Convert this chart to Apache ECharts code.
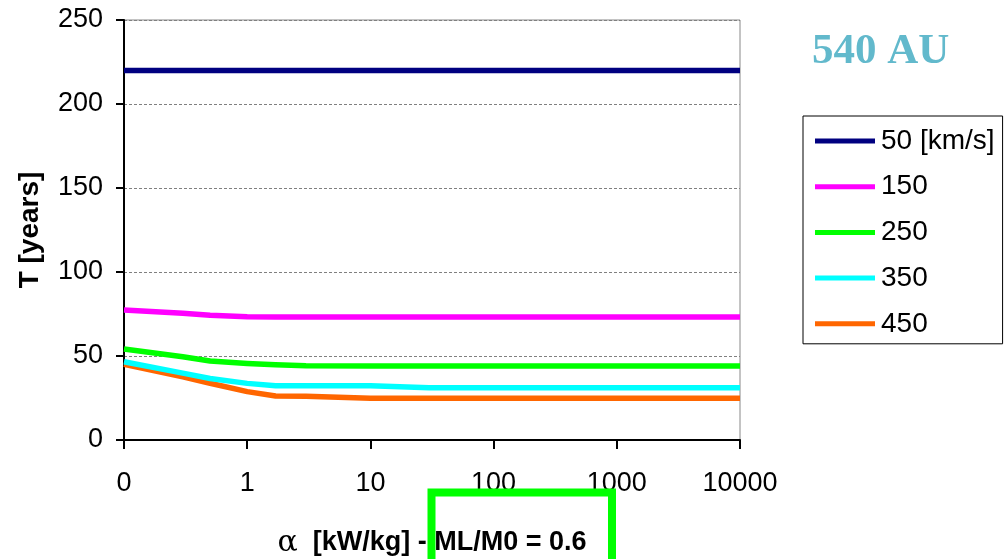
<!DOCTYPE html>
<html>
<head>
<meta charset="utf-8">
<script src="https://cdn.jsdelivr.net/npm/echarts@6/dist/echarts.min.js"></script>
<style>
html,body{margin:0;padding:0;background:#fff;}
#chart{width:1007px;height:559px;}
</style>
</head>
<body>
<div id="chart"></div>
<script>
// alpha [kW/kg] sample points (log axis; 0.1 is shown as "0")
const alphaValues = [0.1, 0.3, 0.5, 1, 1.7, 3, 10, 30, 100, 1000, 10000];
const seriesNames = ['50 [km/s]', '150', '250', '350', '450'];
const t50  = [220, 220, 220, 220, 220, 220, 220, 220, 220, 220, 220];
const t150 = [77.4, 75.4, 74.3, 73.3, 73.2, 73.2, 73.2, 73.2, 73.2, 73.2, 73.2];
const t250 = [54.2, 49.6, 47.0, 45.6, 44.8, 44.2, 44.1, 44.1, 44.1, 44.1, 44.1];
const t350 = [46.6, 39.8, 36.6, 33.7, 32.3, 32.3, 32.3, 31.1, 31.1, 31.1, 31.1];
const t450 = [45.0, 37.6, 33.8, 28.8, 26.2, 26.1, 24.8, 24.8, 24.8, 24.8, 24.8];
const yTicks = [0, 50, 100, 150, 200, 250];
const xTickLabels = {0.1: '0', 1: '1', 10: '10', 100: '100', 1000: '1000', 10000: '10000'};
const colors = ['#000080', '#ff00ff', '#00ff00', '#00ffff', '#ff6600'];
const allSeries = [t50, t150, t250, t350, t450];

const FONT = '"Liberation Sans", Arial, sans-serif';
const chart = echarts.init(document.getElementById('chart'), null, {renderer: 'canvas'});

const option = {
  animation: false,
  backgroundColor: '#ffffff',
  title: {
    text: '540 AU',
    left: 812,
    top: 30,
    padding: 0,
    textStyle: {
      fontFamily: '"Liberation Serif", "Times New Roman", serif',
      fontWeight: 'bold',
      fontSize: 43,
      color: '#62b9cc'
    }
  },
  legend: {
    orient: 'vertical',
    left: 803,
    top: 116,
    padding: [11, 8, 6, 12],
    itemWidth: 60,
    itemHeight: 5,
    itemGap: 17.7,
    icon: 'rect',
    borderColor: '#000',
    borderWidth: 1,
    textStyle: {fontFamily: FONT, fontSize: 28, color: '#000', lineHeight: 27, padding: [0, 0, 0, 1]},
    data: seriesNames
  },
  grid: {
    left: 124, right: 267, top: 20, bottom: 119,
    outerBoundsMode: 'none',
    containLabel: false,
    show: true, borderColor: '#888', borderWidth: 1, backgroundColor: '#fff'
  },
  xAxis: {
    type: 'log',
    logBase: 10,
    min: 0.1,
    max: 10000,
    name: '{a|α}  [kW/kg] - ML/M0 = 0.6',
    nameLocation: 'middle',
    nameGap: 88,
    nameTextStyle: {
      fontFamily: FONT, fontWeight: 'bold', fontSize: 27, color: '#000',
      rich: {a: {fontFamily: '"DejaVu Serif", serif', fontSize: 30, fontWeight: 'normal', color: '#000'}}
    },
    axisLine: {show: true, onZero: false, lineStyle: {color: '#000', width: 2}},
    axisTick: {show: true, length: 9, lineStyle: {color: '#000', width: 2}},
    minorTick: {show: false},
    splitLine: {show: false},
    axisLabel: {
      margin: 30,
      fontFamily: FONT, fontSize: 27, color: '#000',
      formatter: function (v) { return xTickLabels[v] !== undefined ? xTickLabels[v] : (v < 1 ? '0' : String(v)); }
    }
  },
  yAxis: {
    type: 'value',
    min: yTicks[0],
    max: yTicks[yTicks.length - 1],
    interval: 50,
    name: 'T [years]',
    nameLocation: 'middle',
    nameGap: 80,
    nameTextStyle: {fontFamily: FONT, fontWeight: 'bold', fontSize: 28, color: '#000'},
    axisLine: {show: true, lineStyle: {color: '#000', width: 2}},
    axisTick: {show: true, length: 8, lineStyle: {color: '#000', width: 2}},
    splitLine: {show: true, lineStyle: {color: '#808080', width: 1, type: [3, 2]}},
    axisLabel: {margin: 21, fontFamily: FONT, fontSize: 27, color: '#000'}
  },
  series: seriesNames.map(function (name, i) {
    return {
      name: name,
      type: 'line',
      data: alphaValues.map(function (a, j) { return [a, allSeries[i][j]]; }),
      showSymbol: false,
      symbol: 'none',
      smooth: false,
      color: colors[i],
      lineStyle: {color: colors[i], width: 5.5, cap: 'butt', join: 'round'},
      z: 10 - i
    };
  }),
  graphic: [{
    type: 'rect',
    z: 100,
    shape: {x: 431.5, y: 492.5, width: 180.5, height: 120},
    style: {fill: 'none', stroke: '#00ff00', lineWidth: 8}
  }]
};
chart.setOption(option);
</script>
</body>
</html>
